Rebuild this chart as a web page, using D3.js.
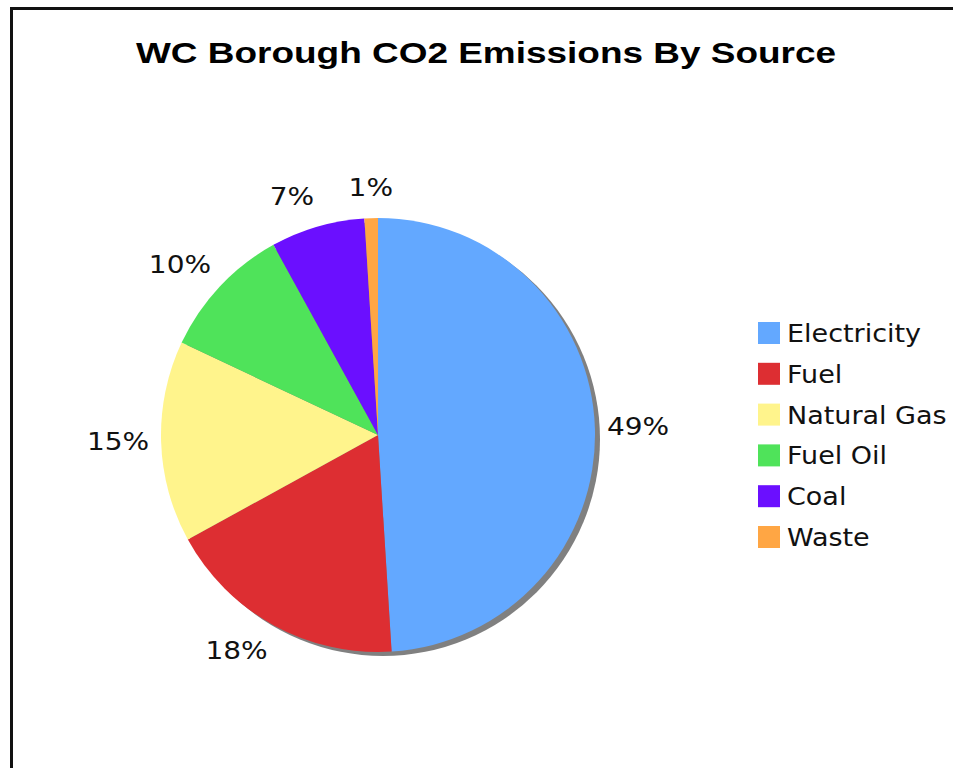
<!DOCTYPE html>
<html>
<head>
<meta charset="utf-8">
<script src="https://cdn.jsdelivr.net/npm/d3@7"></script>
<style>
  html, body { margin: 0; padding: 0; background: #fff; overflow: hidden; }
  svg { display: block; overflow: hidden; }
</style>
</head>
<body>
<svg id="chart" width="953" height="768"></svg>
<script>
// Emission sources and their share of total CO2 (percent)
const categories = ["Electricity", "Fuel", "Natural Gas", "Fuel Oil", "Coal", "Waste"];
const values = [49, 18, 15, 10, 7, 1];
const colors = ["#63A8FF", "#DD2E32", "#FFF48C", "#4FE35A", "#6B0FFF", "#FFA644"];
const title = "WC Borough CO2 Emissions By Source";

const svg = d3.select("#chart");

// Outer frame: only its top and left edges fall inside the view
svg.append("path")
  .attr("d", "M11.5,770 V8.5 H960")
  .attr("fill", "none")
  .attr("stroke", "#111").attr("stroke-width", 3);

// Title
svg.append("text")
  .attr("x", 486).attr("y", 63)
  .attr("text-anchor", "middle")
  .attr("font-family", "Liberation Sans, Arial, sans-serif")
  .attr("font-weight", "bold")
  .attr("font-size", 30)
  .attr("textLength", 700)
  .attr("lengthAdjust", "spacingAndGlyphs")
  .attr("fill", "#000")
  .text(title);

const cx = 378, cy = 435, r = 217;
const data = categories.map((c, i) => ({ name: c, value: values[i] }));

const pie = d3.pie().value(d => d.value).sort(null).startAngle(0).endAngle(2 * Math.PI);
const arcs = pie(data);
const arc = d3.arc().innerRadius(0).outerRadius(r);

const color = d3.scaleOrdinal().domain(categories).range(colors);

const g = svg.append("g").attr("transform", `translate(${cx},${cy})`);

// Drop shadow under the pie
g.append("circle")
  .attr("cx", 5).attr("cy", 4).attr("r", r)
  .attr("fill", "#808080");

g.selectAll("path.slice")
  .data(arcs)
  .join("path")
  .attr("class", "slice")
  .attr("d", arc)
  .attr("fill", d => color(d.data.name));

// Percentage labels: anchored to a ring just outside the pie,
// pushed outward vertically by roughly half a line height
const R = r + 12, lift = 18, sx = 1.12;
g.selectAll("g.lbl")
  .data(arcs)
  .join("g")
  .attr("class", "lbl")
  .attr("transform", d => {
    const a = (d.startAngle + d.endAngle) / 2;
    const s = Math.sin(a), c = -Math.cos(a);
    const x = s * R, y = c * R + c * lift;
    return `translate(${x},${y}) scale(${sx},1)`;
  })
  .append("text")
  .attr("text-anchor", d => {
    const s = Math.sin((d.startAngle + d.endAngle) / 2);
    return s > 0.1 ? "start" : s < -0.1 ? "end" : "middle";
  })
  .attr("dy", "0.3em")
  .attr("font-family", "DejaVu Sans, Verdana, sans-serif")
  .attr("font-size", 25)
  .attr("fill", "#111")
  .text(d => d3.format(".0f")(d.data.value) + "%");

// Legend
const legendY = d3.scalePoint().domain(categories).range([333, 537]);
const rows = svg.append("g").selectAll("g.row")
  .data(categories)
  .join("g")
  .attr("class", "row")
  .attr("transform", d => `translate(758,${legendY(d)})`);
rows.append("rect")
  .attr("x", 0).attr("y", -11)
  .attr("width", 22).attr("height", 22)
  .attr("fill", d => color(d));
rows.append("g")
  .attr("transform", `translate(29,9) scale(1.08,1)`)
  .append("text")
  .attr("font-family", "DejaVu Sans, Verdana, sans-serif")
  .attr("font-size", 25)
  .attr("fill", "#111")
  .text(d => d);
</script>
</body>
</html>
